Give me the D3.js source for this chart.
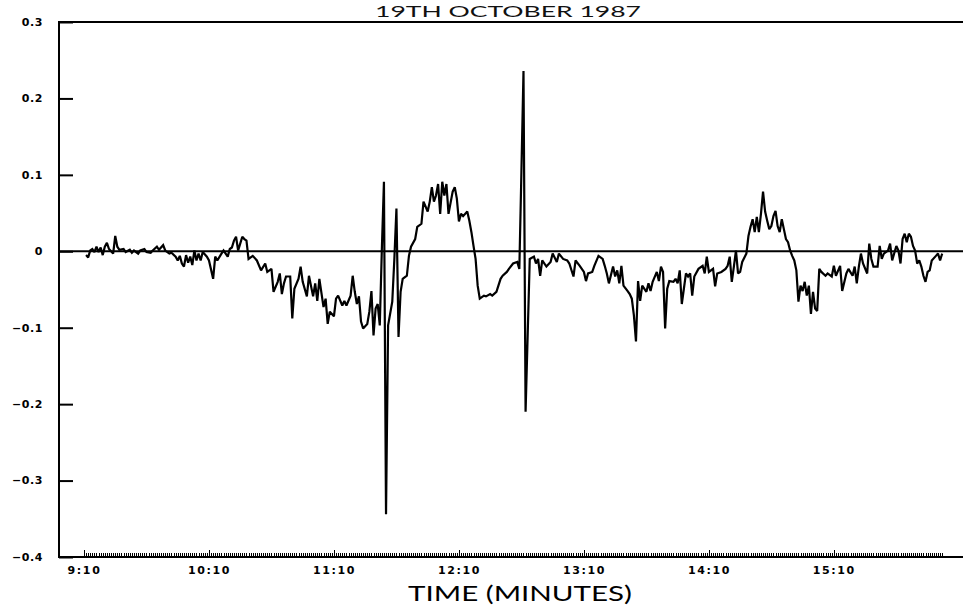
<!DOCTYPE html>
<html><head><meta charset="utf-8">
<script src="https://cdn.jsdelivr.net/npm/d3@7"></script>
<style>
html,body{margin:0;padding:0;background:#fff;}
svg{display:block;}
</style>
</head><body>
<svg id="chart" width="963" height="615"></svg>
<script>
// Minutes after 9:10
const minutes = [1,2,3,4,5,6,7,8,9,10,11,12,14,15,16,17,19,20,22,23,24,26,27,29,30,32,33,35,36,38,39,41,42,44,45,46,47,48,49,50,51,52,53,54,55,56,57,59,60,62,63,64,66,67,69,70,71,72,73,74,75,76,77,78,
79,81,83,85,87,88,90,91,93,94,95,96,97,99,100,101,103,104,105,107,108,110,111,112,113,115,116,117,118,120,121,122,124,125,126,128,129,130,131,132,133,134,136,137,138,139,140,141,142,143,144,145,146,148,149,150,151,152,153,155,156,157,159,160,162,163,165,166,167,168,169,170,171,172,173,174,175,177,178,179,180,181,182,184,185,186,187,188,189,190,192,193,195,196,198,200,201,203,204,206,208,209,210,211,212,
214,216,217,218,219,220,222,224,225,227,228,230,232,233,235,236,238,240,241,242,244,245,247,249,250,251,252,254,255,256,257,258,259,261,262,263,264,265,266,267,268,270,271,272,273,275,276,277,278,279,280,281,283,284,285,286,287,288,289,290,291,292,293,295,297,298,299,300,302,303,304,306,308,309,310,311,312,313,314,315,316,318,319,320,321,322,323,324,325,326,327,328,329,330,331,332,333,334,335,336,337,338,339,340,341,342,343,344,345,346,347,348,349,350,351,352,353,354,356,357,359,360,361,363,364,366,367,369,370,371,372,373,374,376,377,378,379,381,382,383,384,386,387,388,390,391,392,393,394,395,396,397,398,399,400,401,402,403,404,405,406,407,409,410,411,412];
const values = [-0.005,-0.008,0.001,0.003,-0.001,0.006,-0.001,0.005,-0.005,0.006,0.011,0.003,-0.003,0.020,0.006,0.002,0.003,-0.001,0.002,-0.002,0.001,-0.003,0.001,0.003,-0.001,-0.002,0.001,0.006,0.002,0.008,0.001,-0.003,-0.002,-0.007,-0.012,-0.006,-0.016,-0.020,-0.005,-0.015,-0.007,-0.018,0.001,-0.012,-0.003,-0.012,-0.001,-0.007,-0.012,-0.036,-0.007,-0.012,-0.003,0.001,-0.007,0.003,0.005,0.014,0.019,0.001,0.010,0.019,0.016,0.014,
-0.010,-0.006,-0.012,-0.025,-0.016,-0.027,-0.023,-0.053,-0.040,-0.029,-0.056,-0.042,-0.033,-0.033,-0.088,-0.049,-0.036,-0.020,-0.040,-0.059,-0.032,-0.059,-0.042,-0.065,-0.036,-0.073,-0.062,-0.095,-0.079,-0.085,-0.062,-0.058,-0.071,-0.065,-0.071,-0.058,-0.032,-0.053,-0.069,-0.059,-0.092,-0.101,-0.095,-0.079,-0.052,-0.110,-0.075,-0.069,-0.097,0.003,0.091,-0.344,-0.097,-0.066,-0.010,0.056,-0.112,-0.053,-0.036,-0.032,-0.006,0.006,0.016,0.032,0.036,0.065,0.052,0.065,0.084,0.065,0.073,0.088,0.049,0.091,0.073,0.088,0.049,0.078,0.084,0.069,0.039,0.049,0.046,0.052,0.040,0.025,0.007,-0.010,-0.045,-0.062,-0.058,-0.059,-0.056,-0.058,-0.053,-0.036,-0.032,-0.027,-0.023,-0.016,-0.014,-0.023,0.104,0.236,-0.210,
-0.010,-0.007,-0.016,-0.010,-0.032,-0.012,-0.020,-0.014,-0.003,-0.014,-0.003,-0.010,-0.012,-0.016,-0.033,-0.012,-0.019,-0.027,-0.039,-0.029,-0.027,-0.019,-0.006,-0.010,-0.019,-0.029,-0.042,-0.020,-0.033,-0.025,-0.042,-0.019,-0.045,-0.052,-0.056,-0.062,-0.084,-0.118,-0.039,-0.065,-0.045,-0.053,-0.042,-0.052,-0.040,-0.027,-0.039,-0.020,-0.027,-0.101,-0.049,-0.039,-0.040,-0.036,-0.042,-0.025,-0.069,-0.049,-0.029,-0.033,-0.029,-0.058,-0.033,-0.023,-0.019,-0.029,-0.007,-0.027,-0.023,-0.046,-0.029,-0.027,-0.023,-0.019,-0.007,-0.040,-0.020,0.001,-0.029,-0.027,-0.014,-0.003,0.020,0.032,0.042,0.025,0.045,0.025,0.049,0.078,0.052,0.040,0.029,0.033,0.046,0.053,0.033,0.025,0.042,0.029,0.016,0.012,0.001,-0.006,-0.012,-0.025,-0.066,-0.045,-0.052,-0.040,-0.058,-0.045,-0.082,-0.053,-0.075,-0.078,-0.023,-0.027,-0.032,-0.029,-0.033,-0.019,-0.032,-0.019,-0.052,-0.029,-0.023,-0.032,-0.020,-0.042,-0.020,-0.003,-0.016,-0.029,0.010,-0.010,-0.020,-0.020,0.007,-0.010,-0.003,0.001,0.010,-0.012,0.007,0.001,-0.016,0.016,0.023,0.012,0.023,0.019,0.007,0.001,-0.016,-0.012,-0.020,-0.032,-0.040,-0.027,-0.025,-0.012,-0.006,-0.003,-0.012,-0.003];
const xTickMinutes = [0,60,120,180,240,300,360];
const xTickLabels = ["9:10","10:10","11:10","12:10","13:10","14:10","15:10"];
const yTickValues = [0.3,0.2,0.1,0,-0.1,-0.2,-0.3,-0.4];
const yTickLabels = ["0.3","0.2","0.1","0","\u22120.1","\u22120.2","\u22120.3","\u22120.4"];
const minorTickRange = [0,412];
const titleText = "19TH OCTOBER 1987";
const xAxisTitle = "TIME (MINUTES)";

const svg = d3.select("#chart");
const x = d3.scaleLinear().domain([-12, 422]).range([59, 963]);
const y = d3.scaleLinear().domain([-0.4, 0.3]).range([557, 22]);

const data = minutes.map((m,i)=>({m, v: values[i]}));

// Title
svg.append("text").attr("x", 508).attr("y", 17)
  .attr("text-anchor","middle")
  .attr("font-family","Lato, 'DejaVu Sans', sans-serif")
  .attr("font-size", 16).attr("fill","#111")
  .attr("textLength", 266).attr("lengthAdjust","spacingAndGlyphs")
  .text(titleText);

// frame: top, left, bottom
svg.append("line").attr("x1", 59).attr("x2", 963).attr("y1", y(0.3)).attr("y2", y(0.3))
  .attr("stroke","#000").attr("stroke-width",2);
svg.append("line").attr("x1", 59).attr("x2", 59).attr("y1", y(0.3)-1).attr("y2", y(-0.4)+1)
  .attr("stroke","#000").attr("stroke-width",2);
svg.append("line").attr("x1", 58).attr("x2", 963).attr("y1", y(-0.4)).attr("y2", y(-0.4))
  .attr("stroke","#000").attr("stroke-width",2);

// zero line
svg.append("line").attr("x1", 59).attr("x2", 963).attr("y1", y(0)).attr("y2", y(0))
  .attr("stroke","#000").attr("stroke-width",2);

// y axis ticks and labels
const yAxis = d3.axisLeft(y).tickValues(yTickValues)
  .tickFormat((d,i)=>yTickLabels[i]).tickSize(-14).tickPadding(16);
const gy = svg.append("g").attr("transform","translate(59,0)").call(yAxis);
gy.select(".domain").remove();
gy.selectAll(".tick line").attr("stroke","#000").attr("stroke-width",2);
gy.selectAll(".tick text").attr("font-family","'DejaVu Sans', sans-serif")
  .attr("font-weight","bold").attr("font-size",11).attr("fill","#000")
  .attr("letter-spacing","0.6px").attr("dy","0.3em");

// x axis minor (minute) ticks
const minorTicks = d3.range(minorTickRange[0], minorTickRange[1]+1);
svg.append("g").selectAll("line").data(minorTicks).join("line")
  .attr("x1", d=>Math.round(x(d))+0.5).attr("x2", d=>Math.round(x(d))+0.5)
  .attr("y1", y(-0.4)).attr("y2", d=> y(-0.4) - (d % 60 === 0 ? 7 : 4))
  .attr("stroke","#000").attr("stroke-width",1);

// x axis labels
const xAxis = d3.axisBottom(x).tickValues(xTickMinutes)
  .tickFormat((d,i)=>xTickLabels[i]).tickSize(0).tickPadding(9);
const gx = svg.append("g").attr("transform",`translate(0,${y(-0.4)})`).call(xAxis);
gx.select(".domain").remove();
gx.selectAll(".tick text").attr("font-family","'DejaVu Sans', sans-serif")
  .attr("font-weight","bold").attr("font-size",11).attr("fill","#000")
  .attr("letter-spacing","1.6px");

// axis title
svg.append("text").attr("x", 520).attr("y", 601)
  .attr("text-anchor","middle")
  .attr("font-family","Lato, 'DejaVu Sans', sans-serif")
  .attr("font-size", 22).attr("fill","#000")
  .attr("textLength", 224).attr("lengthAdjust","spacingAndGlyphs")
  .text(xAxisTitle);

// series line
const line = d3.line().x(d=>x(d.m)).y(d=>y(d.v));
svg.append("path").datum(data).attr("d", line)
  .attr("fill","none").attr("stroke","#000").attr("stroke-width",2.2)
  .attr("stroke-linejoin","miter").attr("stroke-miterlimit",2);
</script>
</body></html>
